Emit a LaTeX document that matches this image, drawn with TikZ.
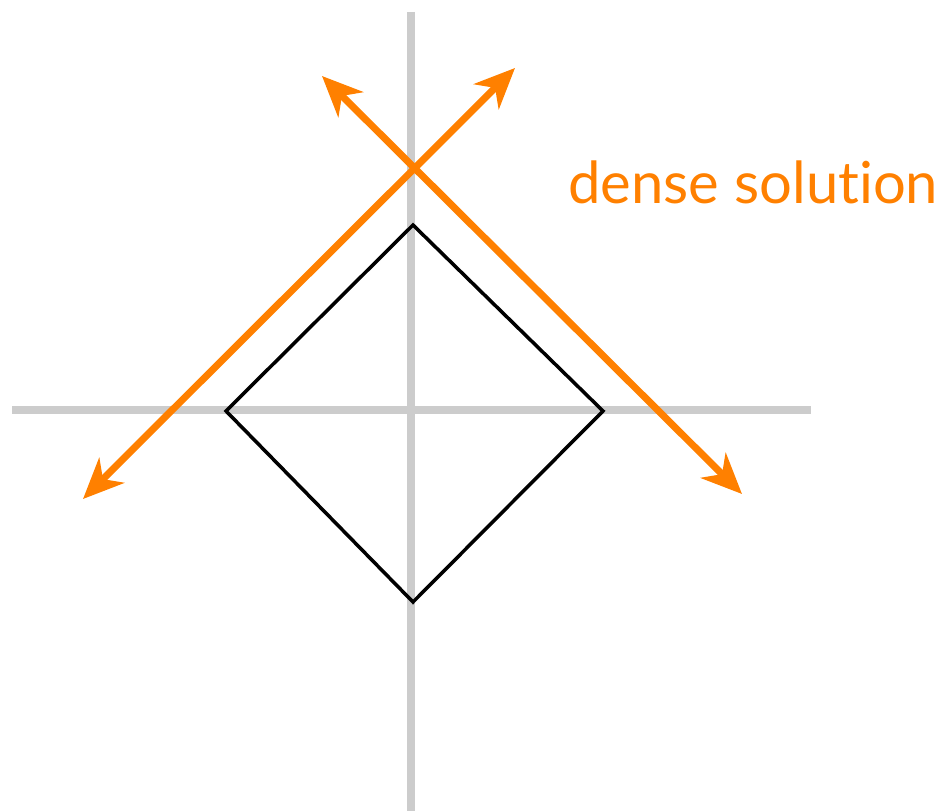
\documentclass[tikz,border=0pt]{standalone}
\usepackage{fontspec}
\setsansfont{Lato}[Ligatures=NoCommon]
\usepackage{xcolor}
\usepackage{tikz}
\usetikzlibrary{arrows.meta}
\definecolor{solorange}{HTML}{FF8000}
\definecolor{axisgray}{HTML}{CCCCCC}
\tikzset{
  axisline/.style={axisgray, line width=4.4pt},
  ballline/.style={black, line width=2pt, line join=miter},
  solline/.style={solorange, line width=4pt, {Stealth[length=23pt,width=20pt,inset=7pt]}-{Stealth[length=23pt,width=20pt,inset=7pt]}}
}

\begin{document}
\begin{tikzpicture}[x=0.02cm, y=-0.02cm]
  \useasboundingbox (0,0) rectangle (949,811);

  % Axes
  \coordinate (ytop) at (411,12);
  \coordinate (ybot) at (411,811);
  \coordinate (xleft) at (12,410);
  \coordinate (xright) at (811,410);
  \draw[axisline] (ytop) -- (ybot);
  \draw[axisline] (xleft) -- (xright);

  % L1 ball
  \coordinate (dtop) at (413,225);
  \coordinate (dright) at (603,411);
  \coordinate (dbot) at (413,602);
  \coordinate (dleft) at (226,411);
  \draw[ballline] (dtop) -- (dright) -- (dbot) -- (dleft) -- cycle;

  % Solution lines
  \coordinate (ll) at (83,499);
  \coordinate (ur) at (515,68);
  \coordinate (ul) at (322,76);
  \coordinate (lr) at (742,494);
  \draw[solline] (ll) -- (ur);
  \draw[solline] (ul) -- (lr);

  % Label
  \node[solorange, font=\sffamily\fontsize{33}{38}\selectfont, anchor=base west, inner sep=0pt] (denselabel) at (568,203) {dense solution};
\end{tikzpicture}
\end{document}
